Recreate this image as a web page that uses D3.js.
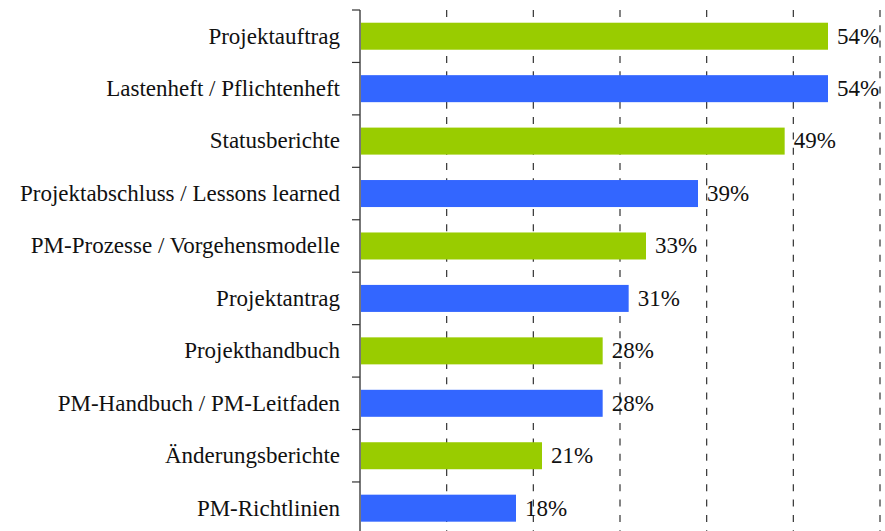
<!DOCTYPE html>
<html>
<head>
<meta charset="utf-8">
<script src="https://cdn.jsdelivr.net/npm/d3@7"></script>
<style>
  body { margin: 0; background: #fff; }
  svg { display: block; }
</style>
</head>
<body>
<svg id="chart" width="885" height="531"></svg>
<script>
// categories top to bottom
var categories = [
  'Projektauftrag',
  'Lastenheft / Pflichtenheft',
  'Statusberichte',
  'Projektabschluss / Lessons learned',
  'PM-Prozesse / Vorgehensmodelle',
  'Projektantrag',
  'Projekthandbuch',
  'PM-Handbuch / PM-Leitfaden',
  'Änderungsberichte',
  'PM-Richtlinien'
];

// share of answers, in percent
var values = [54, 54, 49, 39, 33, 31, 28, 28, 21, 18];

// bars alternate between the two colours
var barColors = ['#99CC00', '#3366FF'];

var gridValues = [10, 20, 30, 40, 50, 60];

var config = {
  axisX: 360,
  top: 10,
  bottom: 534.4,
  right: 880,
  labelGap: 20,
  valueGap: 9,
  fontSize: 23,
  fontFamily: '"Liberation Serif", "Times New Roman", Times, serif'
};

var svg = d3.select('#chart');

var x = d3.scaleLinear().domain([0, 60]).range([config.axisX, config.right]);

var y = d3.scaleBand()
  .domain(categories)
  .range([config.top, config.bottom])
  .paddingInner(0.485)
  .paddingOuter(0.2425);

// dashed vertical gridlines, behind the bars
svg.append('g').attr('class', 'grid')
  .selectAll('line')
  .data(gridValues)
  .enter().append('line')
  .attr('x1', function (d) { return x(d); })
  .attr('x2', function (d) { return x(d); })
  .attr('y1', config.top)
  .attr('y2', 531)
  .attr('stroke', '#333')
  .attr('stroke-width', 1.2)
  .attr('stroke-dasharray', '7,8.3');

// bars
svg.append('g').attr('class', 'bars')
  .selectAll('rect')
  .data(values)
  .enter().append('rect')
  .attr('x', x(0))
  .attr('y', function (d, i) { return y(categories[i]); })
  .attr('width', function (d) { return x(d) - x(0); })
  .attr('height', y.bandwidth())
  .attr('fill', function (d, i) { return barColors[i % 2]; });

// category axis: line plus ticks at the band boundaries
var axisGroup = svg.append('g').attr('class', 'y-axis');
var step = y.step();
var tickYs = d3.range(categories.length + 1).map(function (i) {
  return config.top + i * step;
});

axisGroup.append('line')
  .attr('x1', config.axisX).attr('x2', config.axisX)
  .attr('y1', config.top).attr('y2', 531)
  .attr('stroke', '#777')
  .attr('stroke-width', 2);

axisGroup.selectAll('.tick')
  .data(tickYs)
  .enter().append('line')
  .attr('class', 'tick')
  .attr('x1', config.axisX - 8).attr('x2', config.axisX)
  .attr('y1', function (d) { return d; })
  .attr('y2', function (d) { return d; })
  .attr('stroke', '#333')
  .attr('stroke-width', 1.2);

axisGroup.selectAll('.cat-label')
  .data(categories)
  .enter().append('text')
  .attr('class', 'cat-label')
  .attr('x', config.axisX - config.labelGap)
  .attr('y', function (d) { return y(d) + y.bandwidth() / 2; })
  .attr('dy', '0.32em')
  .attr('text-anchor', 'end')
  .attr('fill', '#111')
  .style('font-family', config.fontFamily)
  .style('font-size', config.fontSize + 'px')
  .text(function (d) { return d; });

// value labels right of each bar
svg.append('g').attr('class', 'values')
  .selectAll('text')
  .data(values)
  .enter().append('text')
  .attr('class', 'value-label')
  .attr('x', function (d) { return x(d) + config.valueGap; })
  .attr('y', function (d, i) { return y(categories[i]) + y.bandwidth() / 2; })
  .attr('dy', '0.32em')
  .attr('fill', '#111')
  .style('font-family', config.fontFamily)
  .style('font-size', config.fontSize + 'px')
  .text(function (d) { return d + '%'; });
</script>
</body>
</html>
